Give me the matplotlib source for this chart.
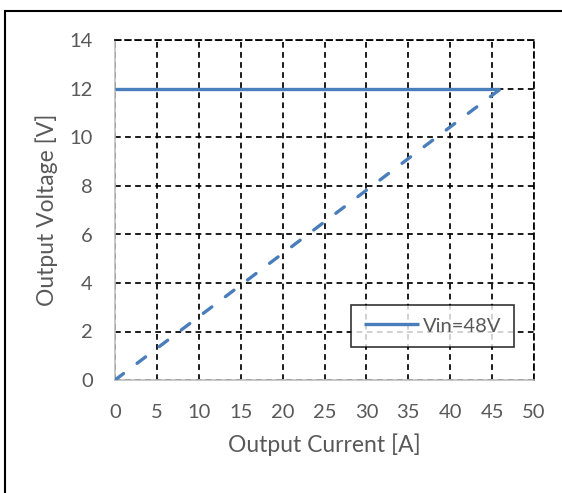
import matplotlib
matplotlib.use("Agg")
import matplotlib.pyplot as plt
from matplotlib.patches import Rectangle

# Data
current_cv = [0, 46]      # constant-voltage segment (solid)
voltage_cv = [12, 12]
current_fb = [0, 46]      # foldback segment (dashed)
voltage_fb = [0, 12]
x_ticks = [0, 5, 10, 15, 20, 25, 30, 35, 40, 45, 50]
y_ticks = [0, 2, 4, 6, 8, 10, 12, 14]
series_label = "Vin=48V"

plt.rcParams['font.family'] = ['Lato', 'DejaVu Sans']
W, H = 562, 493
fig = plt.figure(figsize=(W/100, H/100), dpi=100)
ax = fig.add_axes([115/W, (H-380)/H, (534-115)/W, (380-40.5)/H])

blue = '#4a7ebb'
grey = '#595959'

ax.plot(current_cv, voltage_cv, color=blue, lw=2.4, solid_capstyle='butt', label=series_label, zorder=3)
ax.plot(current_fb, voltage_fb, color=blue, lw=2.4, dashes=(3.2, 5.1), dash_capstyle='round', zorder=3)

ax.set_xlim(0, 50)
ax.set_ylim(0, 14)
ax.set_xticks(x_ticks)
ax.set_yticks(y_ticks)
ax.grid(True, color='black', linestyle=(0, (3.3, 2.5)), lw=1.25)
ax.set_axisbelow(True)
for s in ['left', 'bottom']:
    ax.spines[s].set_color('#bfbfbf')
    ax.spines[s].set_linewidth(1.2)
for s in ['top', 'right']:
    ax.spines[s].set_color('black')
    ax.spines[s].set_linestyle((0, (3.3, 2.5)))
    ax.spines[s].set_linewidth(1.25)
ax.tick_params(length=0, labelsize=14.5, colors=grey)
ax.tick_params(axis='x', pad=17)
ax.tick_params(axis='y', pad=16)
ax.set_xlabel('Output Current [A]', fontsize=16.5, color=grey, labelpad=9)
ax.set_ylabel('Output Voltage [V]', fontsize=16.5, color=grey, labelpad=8)

leg = ax.legend(loc='lower right', bbox_to_anchor=((514-115)/419, (380-347)/339.5), fontsize=14.5,
                frameon=True, fancybox=False, handlelength=2.75, borderpad=0.62,
                handletextpad=0.2, borderaxespad=0)
leg.get_frame().set_edgecolor('black')
leg.get_frame().set_linewidth(1.2)
for t in leg.get_texts():
    t.set_color(grey)

# outer chart frame (extends beyond the right and bottom edges)
fig.patches.append(Rectangle((5/W, -0.1), 1.2, (H-11)/H + 0.1, transform=fig.transFigure,
                             fill=False, edgecolor='black', lw=1.5))

fig.savefig('out.png', dpi=100)
